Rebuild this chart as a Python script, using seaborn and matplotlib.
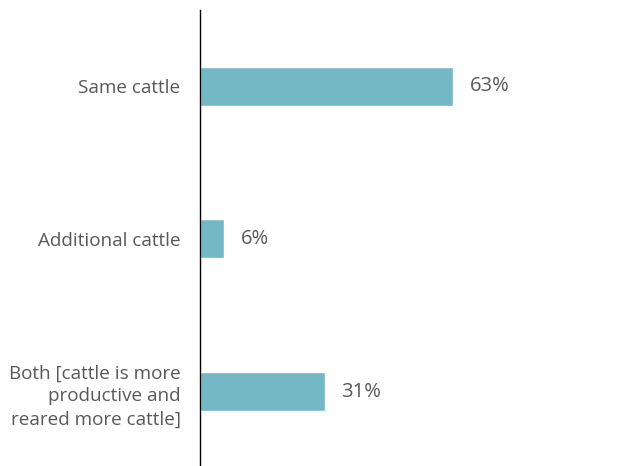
import matplotlib
matplotlib.use("Agg")
import matplotlib.pyplot as plt
import seaborn as sns
import pandas as pd

categories = ["Same cattle", "Additional cattle",
              "Both [cattle is more\nproductive and\nreared more cattle]"]
values = [63, 6, 31]

df = pd.DataFrame({"category": categories, "value": values})

sns.set_theme(style="white")
plt.rcParams["font.family"] = ["Open Sans", "DejaVu Sans"]

fig = plt.figure(figsize=(6.32, 4.66), dpi=100)
ax = fig.add_axes([200/632, 0.0, 1 - 200/632, 1 - 10/466])

sns.barplot(data=df, x="value", y="category", color="#74B8C5",
            width=0.255, ax=ax, orient="h", saturation=1)

ax.set_xlim(0, 107.5)
ax.set_ylim(2.484, -0.497)
ax.set_xlabel("")
ax.set_ylabel("")
ax.set_xticks([])
for s in ["top", "right", "bottom"]:
    ax.spines[s].set_visible(False)
ax.spines["left"].set_color("#000000")
ax.spines["left"].set_linewidth(1.0)
ax.tick_params(axis="y", length=0, pad=14, labelsize=13.6, labelcolor="#595959")
for lbl in ax.get_yticklabels():
    lbl.set_linespacing(1.35)

for c in ax.containers:
    ax.bar_label(c, labels=[f"{v}%" for v in values], padding=12,
                 fontsize=14.5, color="#595959")

fig.savefig("out.png", dpi=100)
